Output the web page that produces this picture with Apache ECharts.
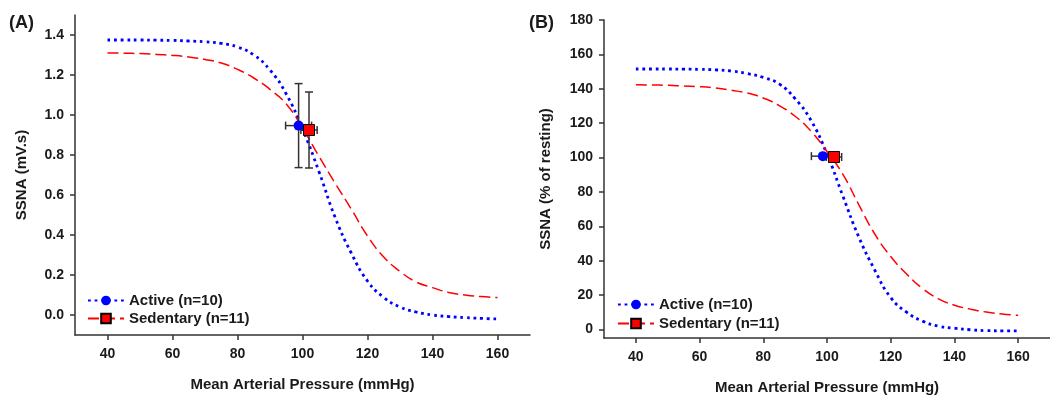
<!DOCTYPE html>
<html>
<head>
<meta charset="utf-8">
<script src="https://cdn.jsdelivr.net/npm/echarts@6/dist/echarts.min.js"></script>
<style>
html,body{margin:0;padding:0;background:#fff;}
#chart{width:1050px;height:400px;}
</style>
</head>
<body>
<div id="chart"></div>
<script>
// ---- data ----
const pressure = [40,45,50,55,60,65,70,75,80,85,90,95,100,105,110,115,120,125,130,135,140,145,150,155,160];
const activeA = [1.375,1.375,1.375,1.374,1.373,1.370,1.366,1.358,1.340,1.300,1.225,1.105,0.930,0.720,0.490,0.310,0.170,0.088,0.040,0.015,0.000,-0.008,-0.013,-0.017,-0.020];
const sedentaryA = [1.310,1.309,1.307,1.303,1.298,1.290,1.278,1.260,1.228,1.185,1.128,1.055,0.935,0.795,0.660,0.530,0.395,0.290,0.218,0.165,0.137,0.113,0.100,0.092,0.087];
const activeB = [151.5,151.5,151.5,151.4,151.3,151.0,150.3,148.8,146.6,142.8,134.2,121.5,102.0,77.5,53.7,34.5,18.5,10.0,4.8,1.9,0.7,-0.2,-0.7,-0.8,-0.8];
const sedentaryB = [142.3,142.2,142.0,141.6,141.2,140.4,139.1,137.5,134.6,130.2,124.0,115.3,103.5,90.2,72.5,55.5,42.4,32.2,23.8,17.8,14.1,11.8,10.1,9.0,8.2];
// mean points: [MAP, SSNA, MAP error, SSNA error]
const meanActiveA = [98.8, 0.947, 4.0, 0.21];
const meanSedentaryA = [102.0, 0.925, 2.5, 0.19];
const meanActiveB = [98.7, 100.8, 3.6, 0];
const meanSedentaryB = [102.2, 100.3, 2.4, 0];
const xTicks = [40,60,80,100,120,140,160];
const yTicksA = [0,0.2,0.4,0.6,0.8,1.0,1.2,1.4];
const yTicksB = [0,20,40,60,80,100,120,140,160,180];
const seriesNames = ['Active (n=10)', 'Sedentary (n=11)'];

const FONT = '"Liberation Sans", Arial, sans-serif';
const TXT = '#1a1a1a';
const BLUE = '#0000ff', RED = '#ff0000';

const pairs = (xs, ys) => xs.map((x, i) => [x, ys[i]]);

function errRender(params, api) {
  const x = api.value(0), y = api.value(1), xe = api.value(2), ye = api.value(3);
  const l = api.coord([x - xe, y]), r = api.coord([x + xe, y]);
  const st = {stroke: '#333', lineWidth: 1.5};
  const h = 4;
  const ch = [
    {type: 'line', shape: {x1: l[0], y1: l[1], x2: r[0], y2: r[1]}, style: st},
    {type: 'line', shape: {x1: l[0], y1: l[1] - h, x2: l[0], y2: l[1] + h}, style: st},
    {type: 'line', shape: {x1: r[0], y1: r[1] - h, x2: r[0], y2: r[1] + h}, style: st}
  ];
  if (ye > 0) {
    const t = api.coord([x, y + ye]), b = api.coord([x, y - ye]);
    ch.push({type: 'line', shape: {x1: t[0], y1: t[1], x2: b[0], y2: b[1]}, style: st});
    ch.push({type: 'line', shape: {x1: t[0] - h, y1: t[1], x2: t[0] + h, y2: t[1]}, style: st});
    ch.push({type: 'line', shape: {x1: b[0] - h, y1: b[1], x2: b[0] + h, y2: b[1]}, style: st});
  }
  return {type: 'group', children: ch};
}

function xAxisFor(gi) {
  return {
    type: 'value', gridIndex: gi, min: 30, max: 170,
    name: 'Mean Arterial Pressure (mmHg)', nameLocation: 'middle', nameGap: 42,
    nameTextStyle: {fontFamily: FONT, fontWeight: 'bold', fontSize: 15, color: TXT},
    axisLine: {show: true, onZero: false, lineStyle: {color: '#333', width: 1.5}},
    axisTick: {show: true, length: 5, customValues: xTicks, lineStyle: {color: '#333', width: 1.5}},
    axisLabel: {customValues: xTicks, margin: 12, fontFamily: FONT, fontWeight: 'bold', fontSize: 14, color: TXT},
    splitLine: {show: false}
  };
}
function yAxisFor(gi, min, max, ticks, name, gap, fmt) {
  return {
    type: 'value', gridIndex: gi, min: min, max: max,
    name: name, nameLocation: 'middle', nameGap: gap,
    nameTextStyle: {fontFamily: FONT, fontWeight: 'bold', fontSize: 15, color: TXT},
    axisLine: {show: true, onZero: false, lineStyle: {color: '#333', width: 1.5}},
    axisTick: {show: true, length: 5, customValues: ticks, lineStyle: {color: '#333', width: 1.5}},
    axisLabel: {customValues: ticks, margin: 11, fontFamily: FONT, fontWeight: 'bold', fontSize: 14, color: TXT, formatter: fmt},
    splitLine: {show: false}
  };
}

function curve(name, gi, ys, color, dash, width, symbol) {
  return {
    name: name, type: 'line', xAxisIndex: gi, yAxisIndex: gi,
    data: pairs(pressure, ys), smooth: 0.5,
    symbol: symbol, symbolSize: 9, showSymbol: false,
    itemStyle: symbol === 'rect' ? {color: color, borderColor: '#000', borderWidth: 1} : {color: color},
    lineStyle: {color: color, width: width, type: dash, cap: 'butt'},
    silent: true, z: 2
  };
}
function errSeries(gi, pts) {
  return {
    type: 'custom', xAxisIndex: gi, yAxisIndex: gi, renderItem: errRender,
    data: pts, encode: {x: 0, y: 1}, silent: true, z: 3
  };
}
function meanSeries(name, gi, pt, color, symbol) {
  return {
    name: name, type: 'scatter', xAxisIndex: gi, yAxisIndex: gi,
    data: [[pt[0], pt[1]]], symbol: symbol, symbolSize: symbol === 'rect' ? 11 : 10,
    itemStyle: symbol === 'rect' ? {color: color, borderColor: '#000', borderWidth: 1, opacity: 1} : {color: color, opacity: 1},
    silent: true, z: 4
  };
}

const chart = echarts.init(document.getElementById('chart'), null, {renderer: 'canvas'});
chart.setOption({
  animation: false,
  backgroundColor: '#fff',
  title: [
    {text: '(A)', left: 4, top: 9, textStyle: {fontFamily: FONT, fontWeight: 'bold', fontSize: 18, color: TXT}},
    {text: '(B)', left: 524, top: 9, textStyle: {fontFamily: FONT, fontWeight: 'bold', fontSize: 18, color: TXT}}
  ],
  grid: [
    {left: 75, top: 15, width: 455, height: 320},
    {left: 604, top: 20, width: 457, height: 320}
  ],
  xAxis: [xAxisFor(0), xAxisFor(1)],
  yAxis: [
    yAxisFor(0, -0.1, 1.5, yTicksA, 'SSNA (mV.s)', 46, v => v.toFixed(1)),
    yAxisFor(1, -5, 180, yTicksB, 'SSNA (% of resting)', 51, v => String(v))
  ],
  legend: [
    {data: seriesNames, orient: 'vertical', left: 82, top: 288, itemWidth: 36, itemHeight: 12, itemGap: 3,
     textStyle: {fontFamily: FONT, fontWeight: 'bold', fontSize: 15, color: TXT}, selectedMode: false},
    {data: seriesNames, orient: 'vertical', left: 612, top: 292, itemWidth: 36, itemHeight: 12, itemGap: 4,
     textStyle: {fontFamily: FONT, fontWeight: 'bold', fontSize: 15, color: TXT}, selectedMode: false}
  ],
  series: [
    curve(seriesNames[0], 0, activeA, BLUE, [2.8, 3.8], 2.8, 'circle'),
    curve(seriesNames[1], 0, sedentaryA, RED, [11, 5], 1.5, 'rect'),
    curve(seriesNames[0], 1, activeB, BLUE, [2.8, 3.8], 2.8, 'circle'),
    curve(seriesNames[1], 1, sedentaryB, RED, [11, 5], 1.5, 'rect'),
    errSeries(0, [meanActiveA, meanSedentaryA]),
    errSeries(1, [meanActiveB, meanSedentaryB]),
    meanSeries(seriesNames[0], 0, meanActiveA, BLUE, 'circle'),
    meanSeries(seriesNames[1], 0, meanSedentaryA, RED, 'rect'),
    meanSeries(seriesNames[0], 1, meanActiveB, BLUE, 'circle'),
    meanSeries(seriesNames[1], 1, meanSedentaryB, RED, 'rect')
  ]
});
</script>
</body>
</html>
